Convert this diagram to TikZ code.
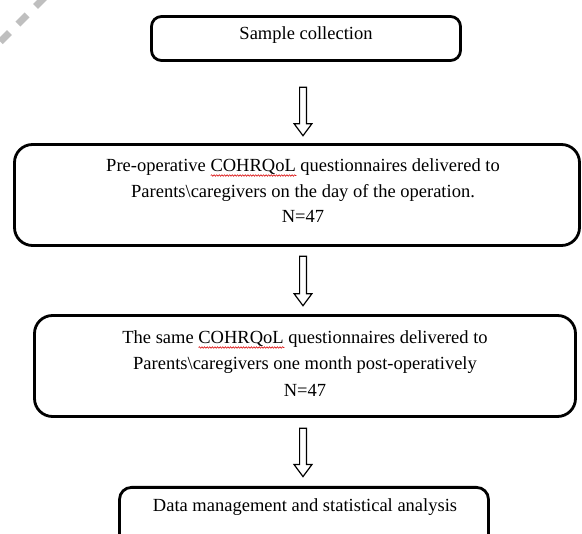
\documentclass[tikz,border=0pt]{standalone}
\usepackage{fontspec}
\setmainfont{Liberation Serif}
\usetikzlibrary{calc,decorations.pathmorphing}
\tikzset{
  box/.style={draw=black, line width=2.8pt, rectangle, rounded corners=#1, inner sep=0pt},
  box/.default=12pt,
  lbl/.style={anchor=base, inner sep=0pt, font=\fontsize{18.5}{22}\selectfont, text=black},
  ghost/.style={lbl, anchor=base west},
  squiggle/.style={draw=red!85!black, line width=0.55pt, decorate,
    decoration={snake, amplitude=0.8pt, segment length=2.6pt}},
  blockarrow/.style={draw=black, line width=1.2pt, line join=miter,
    to path={let \p1=(\tikztostart), \p2=(\tikztotarget) in
      (\x1-3.4pt,\y1) -- (\x1+3.4pt,\y1) -- (\x1+3.4pt,\y2+12pt) -- (\x1+8.9pt,\y2+12pt)
      -- (\x1,\y2) -- (\x1-8.9pt,\y2+12pt) -- (\x1-3.4pt,\y2+12pt) -- cycle}},
  mark wm/.style={line width=7pt, draw=black!25, dash pattern=on 13pt off 12pt}
}
\begin{document}
\begin{tikzpicture}[x=1pt,y=-1pt]
\useasboundingbox (0,0) rectangle (582,534);
\clip (0,0) rectangle (582,534);
\fill[white] (0,0) rectangle (582,534);
% watermark fragment
\coordinate (wm1) at (44.8,-2.8);
\coordinate (wm2) at (-7.5,49.5);
\draw[mark wm] (wm1) -- (wm2);
% boxes
\node[box=10pt, minimum width=309pt, minimum height=44pt] (b1) at (306,38.5) {};
\node[box=18pt, minimum width=565pt, minimum height=101pt] (b2) at (297,195) {};
\node[box=18pt, minimum width=541pt, minimum height=101pt] (b3) at (305,366) {};
\node[box=12pt, minimum width=369pt, minimum height=72pt] (b4) at (304,523.4) {};
% texts
\node[lbl] (t1) at (306,40) {Sample collection};
\node[lbl] (t2a) at (303,172) {Pre-operative COHRQoL questionnaires delivered to};
\node[lbl] (t2b) at (303,197.5) {Parents\textbackslash caregivers on the day of the operation.};
\node[lbl] (t2c) at (303,223) {N=47};
\node[lbl] (t3a) at (305,344) {The same COHRQoL questionnaires delivered to};
\node[lbl] (t3b) at (305,370) {Parents\textbackslash caregivers one month post-operatively};
\node[lbl] (t3c) at (305,397) {N=47};
\node[lbl] (t4) at (305,511.5) {Data management and statistical analysis};
% spell-check squiggles under COHRQoL (positions measured with invisible phantoms)
\node[ghost] (p2) at (t2a.base west) {\phantom{Pre-operative\ }};
\node[ghost] (q2) at (p2.base east) {\phantom{COHRQoL}};
\draw[squiggle] ($(q2.base west)+(0,3.5)$) -- ($(q2.base east)+(0,3.5)$);
\node[ghost] (p3) at (t3a.base west) {\phantom{The same\ }};
\node[ghost] (q3) at (p3.base east) {\phantom{COHRQoL}};
\draw[squiggle] ($(q3.base west)+(0,3.5)$) -- ($(q3.base east)+(0,3.5)$);
% arrows
\draw[blockarrow] ($(b1.south)+(-3,25.4)$) to ($(b2.north)+(6,-7.4)$);
\draw[blockarrow] ($(b2.south)+(6,9.4)$) to ($(b3.north)+(-2,-8.4)$);
\draw[blockarrow] ($(b3.south)+(-2,10.4)$) to ($(b4.north)+(-1,-9.4)$);
\end{tikzpicture}
\end{document}
